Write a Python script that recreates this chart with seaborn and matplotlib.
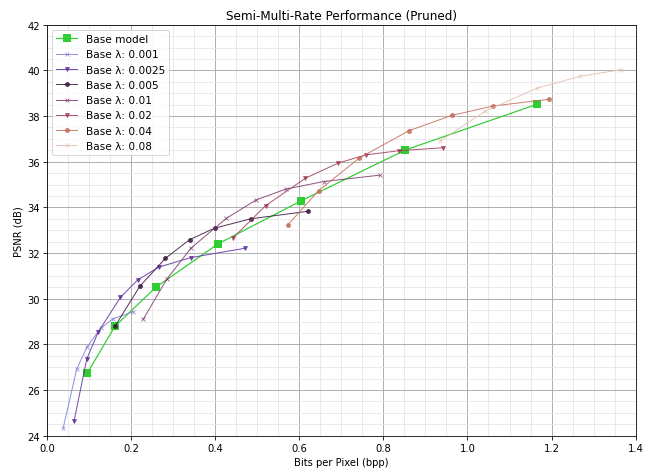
import numpy as np
import pandas as pd
import matplotlib
matplotlib.use("Agg")
import matplotlib.pyplot as plt
from matplotlib.ticker import AutoMinorLocator
import seaborn as sns

# Base model curve
base_bpp = [0.096, 0.162, 0.259, 0.407, 0.605, 0.852, 1.166]
base_psnr = [26.73, 28.79, 30.50, 32.40, 34.29, 36.51, 38.52]

# Semi-multi-rate curves, one per base lambda
lambdas = ["0.001", "0.0025", "0.005", "0.01", "0.02", "0.04", "0.08"]
bpp_001 = [0.039, 0.071, 0.095, 0.128, 0.157, 0.206]
psnr_001 = [24.34, 26.91, 27.87, 28.70, 29.12, 29.43]
bpp_0025 = [0.065, 0.095, 0.122, 0.175, 0.216, 0.266, 0.342, 0.471]
psnr_0025 = [24.66, 27.36, 28.53, 30.06, 30.82, 31.38, 31.80, 32.21]
bpp_005 = [0.162, 0.221, 0.282, 0.340, 0.399, 0.485, 0.622]
psnr_005 = [28.79, 30.54, 31.77, 32.59, 33.09, 33.50, 33.83]
bpp_01 = [0.229, 0.285, 0.343, 0.427, 0.497, 0.568, 0.658, 0.791]
psnr_01 = [29.09, 30.85, 32.22, 33.52, 34.32, 34.80, 35.13, 35.41]
bpp_02 = [0.443, 0.520, 0.615, 0.693, 0.759, 0.837, 0.941]
psnr_02 = [32.67, 34.07, 35.28, 35.94, 36.30, 36.48, 36.61]
bpp_04 = [0.573, 0.646, 0.743, 0.860, 0.963, 1.061, 1.193]
psnr_04 = [33.23, 34.73, 36.16, 37.35, 38.03, 38.44, 38.73]
bpp_08 = [0.935, 1.042, 1.165, 1.268, 1.365]
psnr_08 = [36.91, 38.21, 39.22, 39.74, 40.03]

curves = [(bpp_001, psnr_001), (bpp_0025, psnr_0025), (bpp_005, psnr_005),
          (bpp_01, psnr_01), (bpp_02, psnr_02), (bpp_04, psnr_04), (bpp_08, psnr_08)]
markers = ["x", "v", "o"]
colors = ["#7f7fd6", "#5c2ea0", "#3a1640", "#7c3a6e", "#a03c58", "#c56a5a", "#e3bfae"]

# drawn big, saved small -> everything scales like the reference
fig, ax = plt.subplots(figsize=(9, 6.535), dpi=650 / 9)

sns.lineplot(x=base_bpp, y=base_psnr, ax=ax, color="limegreen", marker="s",
             markersize=8, markeredgewidth=0, linewidth=1.2, sort=False,
             estimator=None, label="Base model")

for i, (lam, (bx, py)) in enumerate(zip(lambdas, curves)):
    sns.lineplot(x=bx, y=py, ax=ax, color=colors[i], marker=markers[i % 3],
                 markersize=4, markeredgecolor=colors[i], linewidth=1,
                 alpha=0.85, sort=False, estimator=None, label=f"Base λ: {lam}")

ax.set_xlim(0.0, 1.4)
ax.set_ylim(24, 42)
ax.xaxis.set_minor_locator(AutoMinorLocator())
ax.yaxis.set_minor_locator(AutoMinorLocator())
ax.tick_params(which="minor", length=0)
ax.grid(which="major", color="#b0b0b0", linewidth=1)
ax.grid(which="minor", color="#e6e6e6", linewidth=0.8)
ax.set_axisbelow(True)

ax.set_title("Semi-Multi-Rate Performance (Pruned)")
ax.set_xlabel("Bits per Pixel (bpp)")
ax.set_ylabel("PSNR (dB)")
ax.legend(loc="upper left", fontsize=10.5)

fig.subplots_adjust(left=0.072, right=0.978, top=0.9456, bottom=0.0748)
fig.savefig("out.png", dpi=650 / 9)
